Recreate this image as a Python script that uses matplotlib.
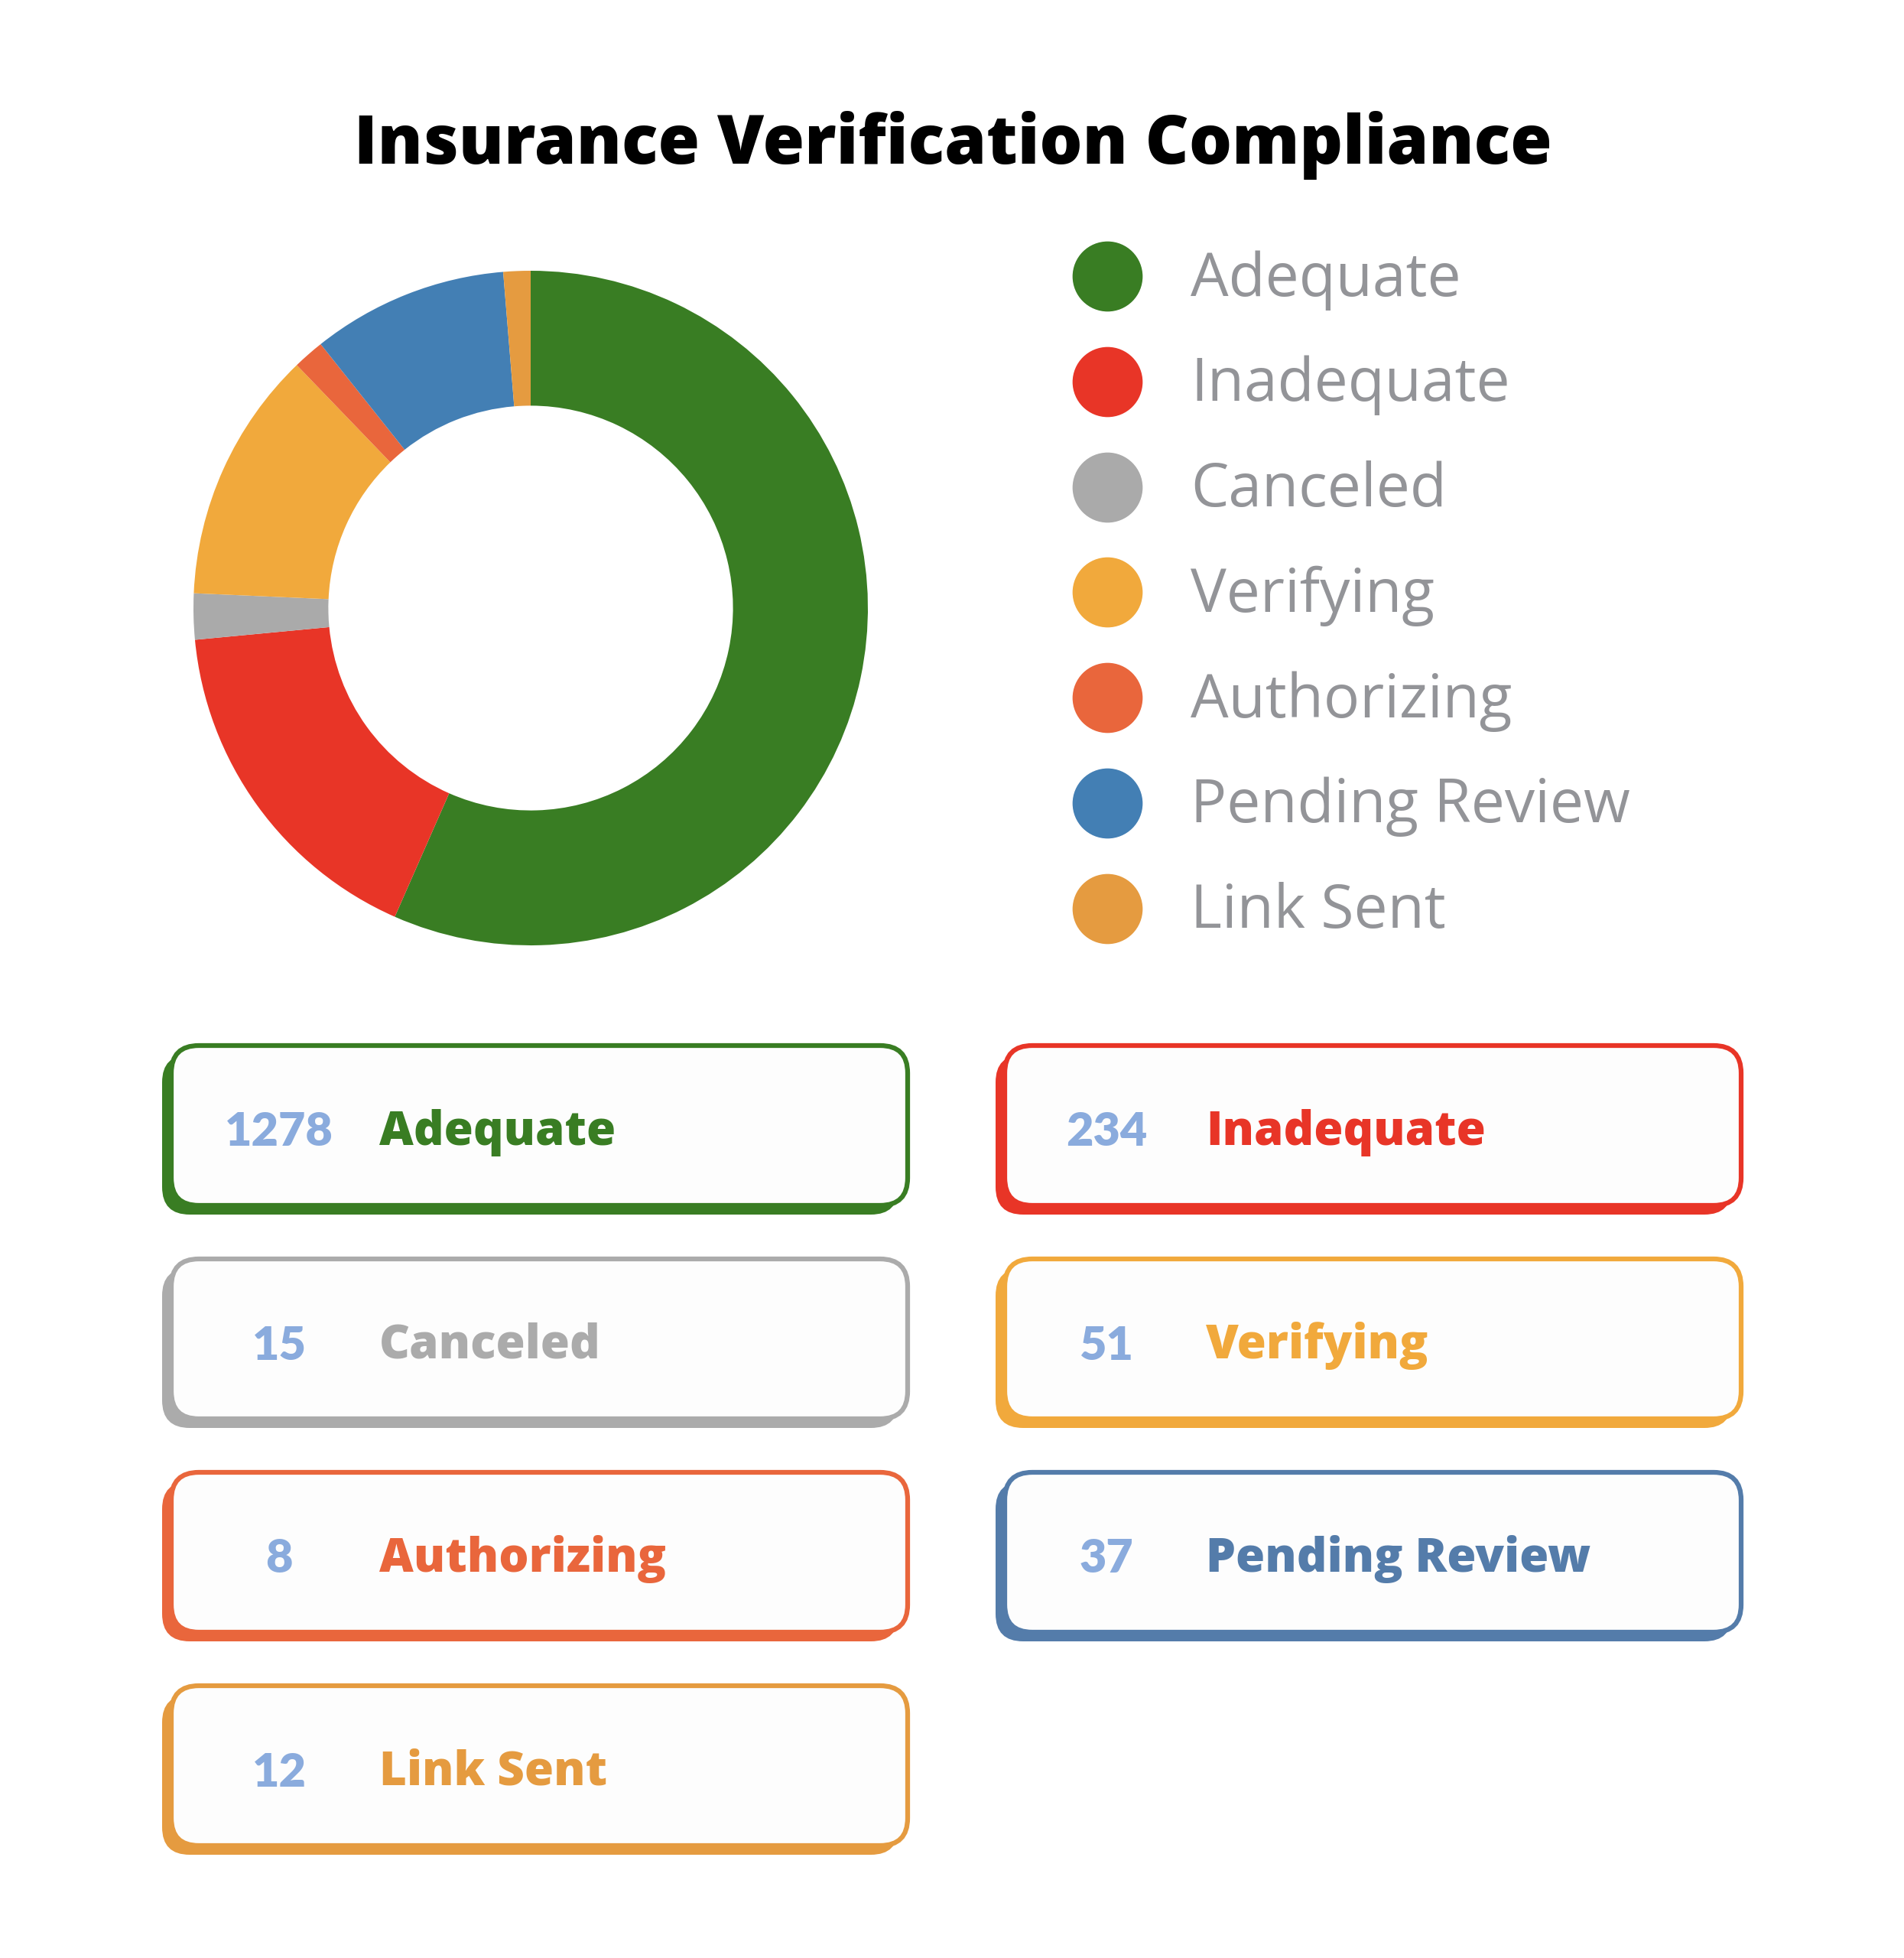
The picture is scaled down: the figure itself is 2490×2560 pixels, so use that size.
import matplotlib
matplotlib.use("Agg")
import matplotlib.pyplot as plt
from matplotlib.patches import FancyBboxPatch

categories = ["Adequate", "Inadequate", "Canceled", "Verifying",
              "Authorizing", "Pending Review", "Link Sent"]
counts = [1278, 234, 15, 51, 8, 37, 12]
# share of the ring each slice takes, in percent, as drawn
pie_share = [56.6, 16.9, 2.2, 12.1, 1.5, 9.4, 1.3]

slice_colors = ["#397d23", "#e83527", "#aaaaaa", "#f1a93c",
                "#e9663c", "#437fb4", "#e59b40"]
card_colors = ["#397d23", "#e83527", "#ababab", "#f1a93c",
               "#e9663c", "#547caa", "#e59b40"]
number_color = "#8aabdd"
legend_text_color = "#939498"

W, H = 2490, 2560
fig = plt.figure(figsize=(W / 100, H / 100), dpi=100)
fig.patch.set_facecolor("white")

wide = ["Open Sans", "DejaVu Sans"]

# main canvas in pixel units, y going down
ax = fig.add_axes([0, 0, 1, 1])
ax.set_xlim(0, W)
ax.set_ylim(H, 0)
ax.set_aspect("equal")
ax.axis("off")

ax.text(1246, 190, "Insurance Verification Compliance", ha="center", va="center",
        fontsize=63.5, fontweight="heavy", family=wide, color="black")

# donut
cx, cy, R = 694, 795, 441
pax = fig.add_axes([(cx - R) / W, (H - cy - R) / H, 2 * R / W, 2 * R / H])
pax.pie(pie_share, colors=slice_colors, startangle=90, counterclock=False,
        radius=1, wedgeprops=dict(width=0.4, linewidth=0))
pax.set_xlim(-1, 1)
pax.set_ylim(-1, 1)
pax.set_aspect("equal")
pax.axis("off")

# legend
for i, (name, col) in enumerate(zip(categories, slice_colors)):
    y = 361 + i * 137.8
    ax.scatter([1448], [y], s=66 ** 2, color=col, linewidths=0, zorder=3)
    ax.text(1557, y + 5, name, ha="left", va="center", fontsize=56.5,
            family=wide, color=legend_text_color)

# cards
col_x = [224, 1314]
card_w, card_h = 963, 209
row_top = 1367
row_step = 279
num_cx = [365, 1447]
label_x = [496, 1577]
off = 12

for i, (name, n, col) in enumerate(zip(categories, counts, card_colors)):
    r, c = divmod(i, 2)
    x0 = col_x[c]
    y0 = row_top + r * row_step
    shadow = FancyBboxPatch((x0 - off, y0 + off), card_w, card_h,
                            boxstyle="round,pad=0,rounding_size=36",
                            facecolor=col, edgecolor=col, linewidth=0, zorder=2)
    card = FancyBboxPatch((x0, y0), card_w, card_h,
                          boxstyle="round,pad=0,rounding_size=36",
                          facecolor="#fdfdfd", edgecolor=col, linewidth=4.5, zorder=3)
    ax.add_patch(shadow)
    ax.add_patch(card)
    ym = y0 + card_h / 2 + 9
    ax.text(num_cx[c], ym, str(n), ha="center", va="center", fontsize=44,
            fontweight="heavy", family=["Lato", "DejaVu Sans"], color=number_color, zorder=4)
    ax.text(label_x[c], ym, name, ha="left", va="center", fontsize=44.5,
            fontweight="heavy", family=wide, color=col, zorder=4)

fig.savefig("out.png", dpi=100, facecolor="white")
